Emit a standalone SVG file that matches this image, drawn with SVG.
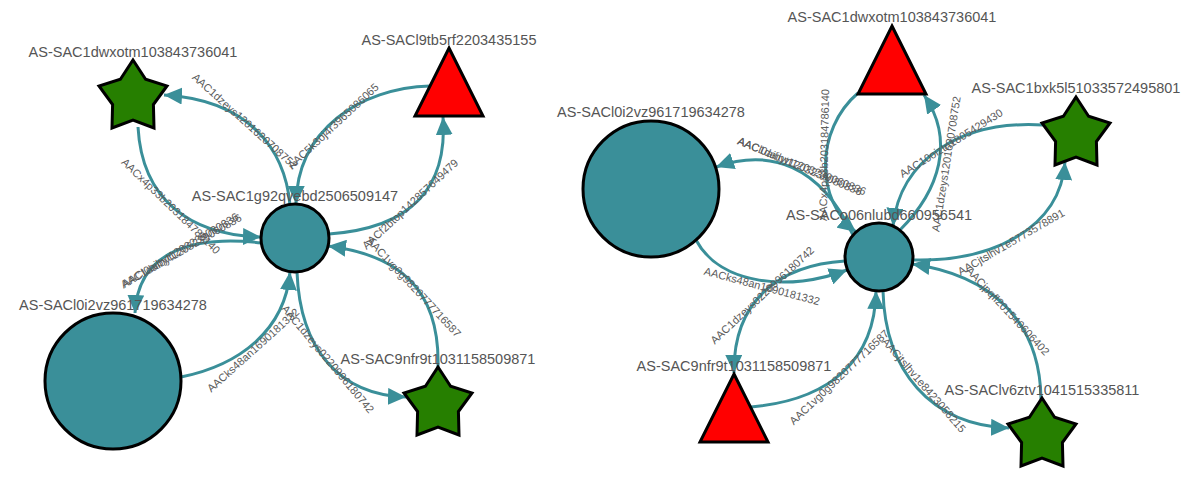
<svg xmlns="http://www.w3.org/2000/svg" width="1185" height="479" viewBox="0 0 1185 479">
<style>
.edge{fill:none;stroke:#3a8f99;stroke-width:3;marker-end:url(#arr)}
.circ{fill:#3a8f99;stroke:#000;stroke-width:3}
.star{fill:#267f00;stroke:#000;stroke-width:3;stroke-linejoin:miter}
.tri{fill:#f00;stroke:#000;stroke-width:3;stroke-linejoin:miter}
.nl{font-family:"Liberation Sans",Arial,sans-serif;font-size:14.5px;fill:#555;text-anchor:middle}
.el{font-family:"Liberation Sans",Arial,sans-serif;font-size:11px;fill:#5a5a5a;text-anchor:middle;dominant-baseline:central}
</style>
<defs>
<marker id="arr" viewBox="0 0 18 17" refX="18" refY="8.5" markerWidth="18" markerHeight="17" markerUnits="userSpaceOnUse" orient="auto">
<path d="M0,0 L18,8.5 L0,17 z" fill="#3a8f99"/>
</marker>
<polygon id="starShape" points="0,-34 12.6,-14.7 34,-8 20.4,10.5 21,34 0,26.1 -21,34 -20.4,10.5 -34,-8 -12.6,-14.7"/>
<polygon id="triShape" points="0,-34 34,34 -34,34"/>
</defs>
<rect width="1185" height="479" fill="#fff"/>

<g id="edges">
<!-- left graph -->
<path class="edge" d="M290 205 C285 150 250 100 164 95"/>
<path class="edge" d="M138 127 C142 200 190 235 261 237"/>
<path class="edge" d="M430 86 C360 88 297 130 296 204"/>
<path class="edge" d="M329 234 C410 228 448 190 443 117"/>
<path class="edge" d="M262 243 C195 235 138 250 135 313"/>
<path class="edge" d="M181 377 C240 365 285 330 290 272"/>
<path class="edge" d="M297 272 C300 350 340 395 406 397"/>
<path class="edge" d="M438 367 C440 290 400 255 328 246"/>
<!-- right graph -->
<path class="edge" d="M858 93 C815 130 815 200 856 232"/>
<path class="edge" d="M900 230 C940 190 955 140 924 95"/>
<path class="edge" d="M1043 125 C960 120 900 160 893 226"/>
<path class="edge" d="M913 260 C990 262 1060 230 1065 162"/>
<path class="edge" d="M1041 399 C1040 320 990 275 912 264"/>
<path class="edge" d="M883 291 C885 370 930 425 1009 428"/>
<path class="edge" d="M845 261 C780 265 733 300 734 373"/>
<path class="edge" d="M751 407 C830 400 875 360 876 291"/>
<path class="edge" d="M696 240 C720 285 790 292 847 270"/>
<path class="edge" d="M853 235 C820 165 770 148 716 167"/>

<!-- edge labels left -->
<text class="el" transform="translate(245 121) rotate(42)">AAC1dzeys1201620708752</text>
<text class="el" transform="translate(333 126) rotate(-43)">AAC5k3oj4r3965086065</text>
<text class="el" transform="translate(410 204) rotate(-43)">AACf2btop142857649479</text>
<text class="el" transform="translate(171 206) rotate(44)">AACx4p33b203184786140</text>
<text class="el" transform="translate(180 250) rotate(-31)">AACl0aibyt1203239080836</text>
<text class="el" transform="translate(181 251) rotate(-30)">AAC1daibyt1203239060836</text>
<text class="el" transform="translate(253 350) rotate(-42)">AACks48an1690181332</text>
<text class="el" transform="translate(328 359) rotate(50)">AAC1dzeys0220996180742</text>
<text class="el" transform="translate(414 287) rotate(47)">AAC1vg0g9820777716587</text>
<!-- edge labels right -->
<text class="el" transform="translate(824 155) rotate(-89)">AACx4p33b203184786140</text>
<text class="el" transform="translate(946 164) rotate(-81)">AAC1dzeys1201620708752</text>
<text class="el" transform="translate(951 143) rotate(-32)">AAC10oiztn1805429430</text>
<text class="el" transform="translate(1011 242) rotate(-30)">AACjtslhv1e5773578891</text>
<text class="el" transform="translate(1008 311) rotate(47)">AACjpqfl201540606402</text>
<text class="el" transform="translate(924 385) rotate(49)">AACjtslhv1e8423058215</text>
<text class="el" transform="translate(762 295) rotate(-43)">AAC1dzeys0220996180742</text>
<text class="el" transform="translate(839 377) rotate(-43.5)">AAC1vg0g9820777716587</text>
<text class="el" transform="translate(762 286) rotate(15)">AACks48an1690181332</text>
<text class="el" transform="translate(800 166) rotate(23)">AACl0aibyt1203239080836</text>
<text class="el" transform="translate(802 166) rotate(22)">AAC1daibyt1203239060836</text>
</g>

<!-- left graph nodes -->
<g id="L-AS-SAC1g92qvebd2506509147">
<circle class="circ" cx="295" cy="238" r="34"/>
<text class="nl" x="295" y="201">AS-SAC1g92qvebd2506509147</text>
</g>
<g id="L-AS-SAC1dwxotm103843736041">
<use href="#starShape" class="star" x="133" y="94"/>
<text class="nl" x="133" y="57">AS-SAC1dwxotm103843736041</text>
</g>
<g id="L-AS-SACl9tb5rf2203435155">
<use href="#triShape" class="tri" x="449" y="82"/>
<text class="nl" x="449" y="45">AS-SACl9tb5rf2203435155</text>
</g>
<g id="L-AS-SACl0i2vz961719634278">
<circle class="circ" cx="113" cy="381" r="68"/>
<text class="nl" x="113" y="310">AS-SACl0i2vz961719634278</text>
</g>
<g id="L-AS-SAC9nfr9t1031158509871">
<use href="#starShape" class="star" x="438" y="401"/>
<text class="nl" x="438" y="364">AS-SAC9nfr9t1031158509871</text>
</g>

<!-- right graph nodes -->
<g id="R-AS-SACo06nlubd660956541">
<circle class="circ" cx="879" cy="257" r="34"/>
<text class="nl" x="879" y="220">AS-SACo06nlubd660956541</text>
</g>
<g id="R-AS-SAC1dwxotm103843736041">
<use href="#triShape" class="tri" x="892" y="60"/>
<text class="nl" x="892" y="22">AS-SAC1dwxotm103843736041</text>
</g>
<g id="R-AS-SAC1bxk5l51033572495801">
<use href="#starShape" class="star" x="1076" y="131"/>
<text class="nl" x="1076" y="93">AS-SAC1bxk5l51033572495801</text>
</g>
<g id="R-AS-SACl0i2vz961719634278">
<circle class="circ" cx="651" cy="189" r="68"/>
<text class="nl" x="651" y="117">AS-SACl0i2vz961719634278</text>
</g>
<g id="R-AS-SAC9nfr9t1031158509871">
<use href="#triShape" class="tri" x="734" y="408"/>
<text class="nl" x="734" y="371">AS-SAC9nfr9t1031158509871</text>
</g>
<g id="R-AS-SAClv6ztv1041515335811">
<use href="#starShape" class="star" x="1042" y="432"/>
<text class="nl" x="1042" y="395">AS-SAClv6ztv1041515335811</text>
</g>
</svg>
